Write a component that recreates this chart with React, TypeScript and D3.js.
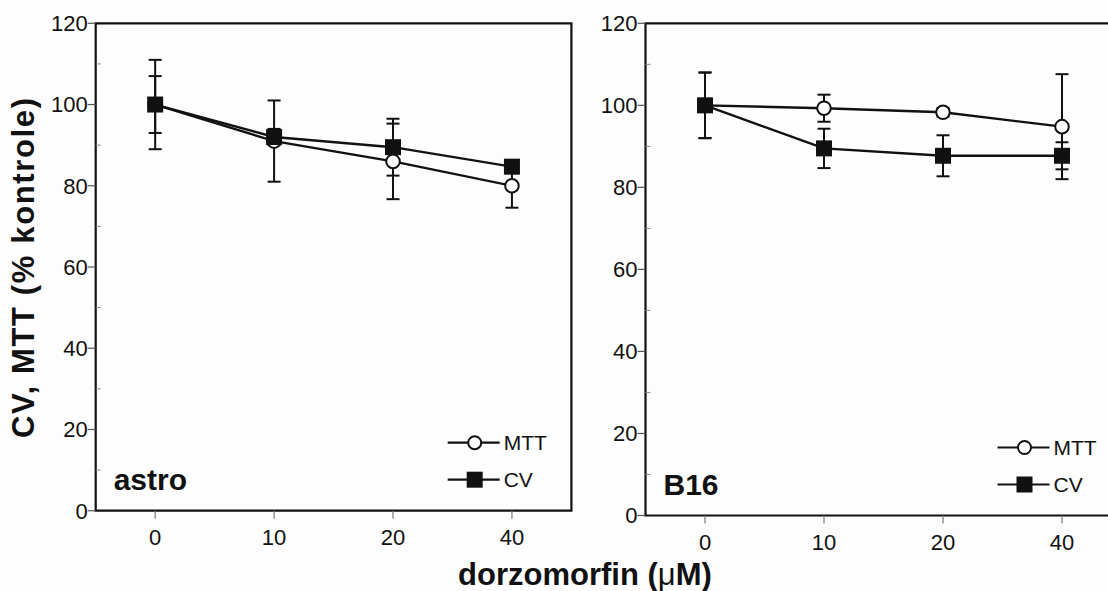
import React from "react";
import * as d3 from "d3";

const doses = ["0", "10", "20", "40"];
const yTicks = [0, 20, 40, 60, 80, 100, 120];
const yMinor = [10, 30, 50, 70, 90, 110];

const astroMTT = [100, 91, 86, 80];
const astroMTTErr = [7, 10, 9.3, 5.4];
const astroCV = [100, 92, 89.5, 84.7];
const astroCVErr = [11, 2, 7, 1.5];

const b16MTT = [100, 99.3, 98.3, 94.8];
const b16MTTErr = [8, 3.3, 1, 12.8];
const b16CV = [100, 89.5, 87.7, 87.7];
const b16CVErr = [8, 4.8, 5, 3.3];

const panelNames = ["astro", "B16"];
const seriesNames = ["MTT", "CV"];
const xLabel = "dorzomorfin (";
const yLabel = "CV, MTT (% kontrole)";

const FONT = "'Liberation Sans', Arial, Helvetica, sans-serif";
const INK = "#111";

type PanelProps = {
  left: number;
  right: number;
  top: number;
  bottom: number;
  name: string;
  mtt: number[];
  mttErr: number[];
  cv: number[];
  cvErr: number[];
  drawRight: boolean;
};

function Panel(p: PanelProps) {
  const x = d3.scalePoint<string>().domain(doses).range([p.left, p.right]).padding(0.5);
  const y = d3.scaleLinear().domain([0, 120]).range([p.bottom, p.top]);
  const line = d3
    .line<number>()
    .x((_, i) => x(doses[i]) as number)
    .y((v) => y(v));
  const cap = 6.5;
  const errBars = (vals: number[], errs: number[], key: string) =>
    vals.map((v, i) => {
      const cx = x(doses[i]) as number;
      const y1 = y(v + errs[i]);
      const y2 = y(v - errs[i]);
      return (
        <g key={key + i} stroke={INK} strokeWidth={2}>
          <line x1={cx} x2={cx} y1={y1} y2={y2} />
          <line x1={cx - cap} x2={cx + cap} y1={y1} y2={y1} />
          <line x1={cx - cap} x2={cx + cap} y1={y2} y2={y2} />
        </g>
      );
    });
  const legX = p.left + 352;
  const rowMTT = p.bottom - 68;
  const rowCV = p.bottom - 31;
  const sq = 16;
  return (
    <g>
      <path
        d={
          p.drawRight
            ? `M${p.left},${p.top}H${p.right}V${p.bottom}H${p.left}Z`
            : `M1120,${p.top}H${p.left}V${p.bottom}H1120`
        }
        fill="none"
        stroke={INK}
        strokeWidth={2.2}
      />
      {yTicks.map((t) => (
        <g key={"yt" + t}>
          <line x1={p.left - 8} x2={p.left} y1={y(t)} y2={y(t)} stroke="#555" strokeWidth={1.2} />
          <text
            x={p.left - 8}
            y={y(t)}
            dy="0.36em"
            textAnchor="end"
            fontSize={22}
            fontFamily={FONT}
            fill={INK}
          >
            {t}
          </text>
        </g>
      ))}
      {yMinor.map((t) => (
        <line key={"ym" + t} x1={p.left} x2={p.left + 5} y1={y(t)} y2={y(t)} stroke="#888" strokeWidth={1} />
      ))}
      {doses.map((d) => (
        <g key={"xt" + d}>
          <line
            x1={x(d) as number}
            x2={x(d) as number}
            y1={p.bottom}
            y2={p.bottom + 8}
            stroke="#777"
            strokeWidth={1.2}
          />
          <text
            x={x(d) as number}
            y={p.bottom + 34}
            textAnchor="middle"
            fontSize={22}
            fontFamily={FONT}
            fill={INK}
          >
            {d}
          </text>
        </g>
      ))}
      <path d={line(p.mtt) || ""} fill="none" stroke={INK} strokeWidth={2.4} />
      <path d={line(p.cv) || ""} fill="none" stroke={INK} strokeWidth={2.4} />
      {errBars(p.mtt, p.mttErr, "em")}
      {errBars(p.cv, p.cvErr, "ec")}
      {p.mtt.map((v, i) => (
        <circle key={"m" + i} cx={x(doses[i]) as number} cy={y(v)} r={6.8} fill="#fff" stroke={INK} strokeWidth={2} />
      ))}
      {p.cv.map((v, i) => (
        <rect
          key={"c" + i}
          x={(x(doses[i]) as number) - sq / 2}
          y={y(v) - sq / 2}
          width={sq}
          height={sq}
          fill={INK}
        />
      ))}
      <text x={p.left + 18} y={p.bottom - 21} fontSize={30} fontWeight="bold" fontFamily={FONT} fill={INK}>
        {p.name}
      </text>
      <line x1={legX} x2={legX + 52} y1={rowMTT} y2={rowMTT} stroke={INK} strokeWidth={2.2} />
      <circle cx={legX + 27} cy={rowMTT} r={6.5} fill="#fff" stroke={INK} strokeWidth={2} />
      <text x={legX + 56} y={rowMTT} dy="0.36em" fontSize={21} fontFamily={FONT} fill={INK}>
        {seriesNames[0]}
      </text>
      <line x1={legX} x2={legX + 52} y1={rowCV} y2={rowCV} stroke={INK} strokeWidth={2.2} />
      <rect x={legX + 27 - 8} y={rowCV - 8} width={16} height={16} fill={INK} />
      <text x={legX + 56} y={rowCV} dy="0.36em" fontSize={21} fontFamily={FONT} fill={INK}>
        {seriesNames[1]}
      </text>
    </g>
  );
}

export default function App() {
  return (
    <svg
      width={1108}
      height={591}
      viewBox="0 0 1108 591"
      style={{ position: "absolute", left: 0, top: 0, background: "#fdfdfd" }}
    >
      <rect x={0} y={0} width={1108} height={591} fill="#fdfdfd" />
      <Panel
        left={95.7}
        right={571.4}
        top={23.3}
        bottom={510.7}
        name={panelNames[0]}
        mtt={astroMTT}
        mttErr={astroMTTErr}
        cv={astroCV}
        cvErr={astroCVErr}
        drawRight={true}
      />
      <Panel
        left={645.5}
        right={1121.5}
        top={23.3}
        bottom={515.5}
        name={panelNames[1]}
        mtt={b16MTT}
        mttErr={b16MTTErr}
        cv={b16CV}
        cvErr={b16CVErr}
        drawRight={false}
      />
      <text
        transform="translate(34,268) rotate(-90)"
        textAnchor="middle"
        fontSize={31}
        fontWeight="bold"
        fontFamily={FONT}
        fill={INK}
        textLength={340}
        lengthAdjust="spacing"
      >
        {yLabel}
      </text>
      <text x={585} y={585} textAnchor="middle" fontSize={31} fontWeight="bold" fontFamily={FONT} fill={INK}>
        {xLabel}
        <tspan fontWeight="normal">μ</tspan>
        {"M)"}
      </text>
    </svg>
  );
}
